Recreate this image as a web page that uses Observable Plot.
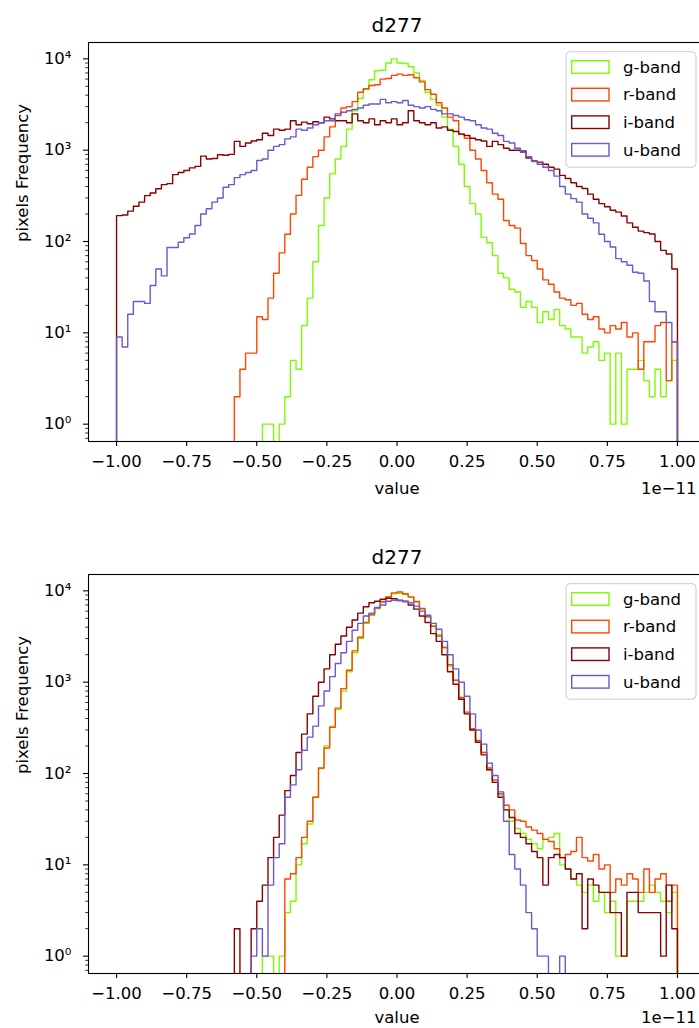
<!DOCTYPE html>
<html>
<head>
<meta charset="utf-8">
<script src="https://cdn.jsdelivr.net/npm/d3@7"></script>
<script src="https://cdn.jsdelivr.net/npm/@observablehq/plot@0.6"></script>
<style>
html, body { margin: 0; padding: 0; background: #fff; overflow: hidden; width: 699px; height: 1028px; }
#chart { width: 705px; }
#chart svg { display: block; }
</style>
</head>
<body>
<div id="chart"></div>
<script>
// ---------- data ----------
const chartTitle = "d277";
const xLabel = "value";
const xOffsetLabel = "1e\u221211";
const yLabel = "pixels Frequency";
const bands = ["g-band", "r-band", "i-band", "u-band"];
const bandColors = ["#7cfc00", "#ff4500", "#8b0000", "#6a5acd"];

// bin edges (units of 1e-11), 100 bins of width 0.02 from -1 to 1
const binEdges = d3.range(101).map(i => Math.round((-1 + 0.02 * i) * 100) / 100);

const xTicks = [-1, -0.75, -0.5, -0.25, 0, 0.25, 0.5, 0.75, 1];
const yMajor = [1, 10, 100, 1000, 10000];
const yMajorLabels = ["10\u2070", "10\u00b9", "10\u00b2", "10\u00b3", "10\u2074"];
const yMinor = [0.7, 0.8, 0.9,
  2, 3, 4, 5, 6, 7, 8, 9,
  20, 30, 40, 50, 60, 70, 80, 90,
  200, 300, 400, 500, 600, 700, 800, 900,
  2000, 3000, 4000, 5000, 6000, 7000, 8000, 9000];

// ---- top panel counts (per bin) ----
const gTop = [0,0,0,0,0,0,0,0,0,0,
  0,0,0,0,0,0,0,0,0,0,
  0,0,0,0,0,0,1,1,0,1,
  2,5,4,12,24,60,150,300,550,800,
  1100,1700,2700,3700,4600,5900,7400,7500,9000,10000,
  9000,8900,8200,7000,5800,4300,3600,3100,2300,1700,
  1100,700,400,260,200,111,97,70,45,40,
  30,28,19,22,19,13,17,14,18,12,
  11,9,9,6,7,8,5,6,1,6,
  1,4,4,5,3,2,4,2,3,5];
const rTop = [0,0,0,0,0,0,0,0,0,0,
  0,0,0,0,0,0,0,0,0,0,
  0,2,4,6,6,15,14,24,45,75,
  120,200,320,480,650,850,1000,1400,1800,2400,
  2900,3000,3400,4300,4700,5100,5200,6000,6100,6600,
  6800,6600,6700,6200,5600,4600,4100,3300,2900,2300,
  2100,1500,1350,1000,800,600,440,330,290,170,
  150,140,95,70,62,50,38,34,28,24,
  23,20,21,16,14,15,11,10,12,11,
  13,9,10,4,8,8,12,13,3,8];
const iTop = [192,195,215,243,270,318,340,378,420,430,
  540,570,600,640,665,860,800,810,890,880,
  900,1250,1100,1200,1260,1300,1530,1450,1700,1650,
  1700,2100,1900,2030,1950,2050,2000,2300,2200,2100,
  2100,2000,2500,2100,2000,2200,1900,2100,2000,2200,
  1900,2000,2700,2100,2000,1900,2000,1750,1800,1650,
  1600,1500,1450,1350,1300,1260,1100,1250,1150,1050,
  1000,1000,980,820,760,740,700,650,620,530,
  490,440,400,380,330,290,260,240,220,210,
  190,160,143,130,125,121,100,80,73,50];
const uTop = [9,7,16,22,22,21,33,50,42,86,
  86,98,110,121,150,200,228,270,300,393,
  420,500,540,570,600,770,800,1000,1100,1150,
  1330,1400,1700,1650,1750,1900,2000,2100,2100,2500,
  2600,2700,2800,2900,3100,3200,3200,3600,3300,3400,
  3300,3500,3100,3000,2900,3000,2800,2700,2500,2500,
  2400,2300,2150,2100,1900,1750,1700,1530,1450,1250,
  1200,1050,950,850,750,700,650,600,520,400,
  330,295,270,200,180,160,120,100,87,65,
  60,55,46,45,37,22,17,17,13,8];

// ---- bottom panel counts (per bin) ----
const gBot = [0,0,0,0,0,0,0,0,0,0,
  0,0,0,0,0,0,0,0,0,0,
  0,0,0,0,0,0,1,1,0,1,
  3,4,10,17,28,55,113,200,330,500,
  800,1300,2100,3000,4400,5400,6400,7500,8500,9300,
  9400,9100,8500,7700,6300,5300,4100,3300,2400,1500,
  1050,650,450,300,220,170,110,80,58,40,
  30,25,22,19,17,15,19,20,22,10,
  9,7,6,5,6,4,5,3,4,1,
  1,4,4,4,5,6,5,4,3,5];
const rBot = [0,0,0,0,0,0,0,0,0,0,
  0,0,0,0,0,0,0,0,0,0,
  0,0,0,0,0,0,0,0,0,0,
  7,8,12,20,30,55,115,190,320,520,
  850,1350,2200,3100,4500,5500,6500,7600,8600,9500,
  9700,9300,8600,7600,6400,5200,4100,3200,2400,1550,
  1050,680,470,310,230,170,115,85,60,45,
  40,31,30,26,24,22,19,18,15,12,
  13,14,20,12,11,13,9,10,5,7,
  6,8,7,5,9,5,7,8,4,6];
const iBot = [0,0,0,0,0,0,0,0,0,0,
  0,0,0,0,0,0,0,0,0,0,
  0,2,0,0,2,4,6,12,20,35,
  65,95,170,270,450,700,1000,1400,2000,2600,
  3200,4000,4800,5700,6700,7400,7700,8100,8300,8200,
  7900,7700,7000,6300,5300,4500,3400,2800,2000,1300,
  950,650,450,300,220,160,110,80,55,40,
  33,22,20,17,14,12,6,12,13,12,
  9,7,8,2,7,6,5,5,3,3,
  1,5,5,3,3,3,3,1,6,2];
const uBot = [0,0,0,0,0,0,0,0,0,0,
  0,0,0,0,0,0,0,0,0,0,
  0,0,0,0,1,2,1,6,12,17,
  55,75,110,180,250,330,550,800,1150,1600,
  2100,2800,3700,4400,5300,5700,6600,7000,7700,7900,
  7800,7600,7400,6800,6000,5400,4400,3800,2800,2000,
  1400,1000,700,450,300,210,130,95,63,30,
  13,9,6,3,2,1,1,0,0,1,
  0,0,0,0,0,0,0,0,0,0,
  0,0,0,0,0,0,0,0,0,0];

// ---------- drawing ----------
const FONT = "'DejaVu Sans', 'Liberation Sans', sans-serif";

function stepPoints(counts) {
  const FLOOR = 1e-3; // empty bins fall below the axes, like matplotlib's log histogram
  const v = c => (c > 0 ? c : FLOOR);
  const n = counts.length;
  const pts = [{x: binEdges[0], y: FLOOR}];
  counts.forEach((c, i) => pts.push({x: binEdges[i], y: v(c)}));
  pts.push({x: binEdges[n], y: v(counts[n - 1])});
  pts.push({x: binEdges[n], y: FLOOR});
  return pts;
}

function drawPanel(series, height, marginTop, marginBottom, labelDy) {
  const plot = Plot.plot({
    width: 705, height, marginTop, marginBottom, marginLeft: 88, marginRight: 0,
    style: {fontFamily: FONT, fontSize: "16.5px", color: "#000", background: "#fff", maxWidth: "none", overflow: "visible"},
    x: {type: "linear", domain: [-1.1, 1.1]},
    y: {type: "log", domain: [0.646, 15100]},
    marks: [
      ...bands.map((b, i) => Plot.line(stepPoints(series[i]), {
        x: "x", y: "y", curve: "step-after", stroke: bandColors[i], strokeWidth: 1.4, clip: true
      })),
      Plot.frame({stroke: "#000", strokeWidth: 1.1}),
      Plot.axisX(xTicks, {anchor: "bottom", tickSize: 5, tickPadding: 9, tickFormat: d3.format(".2f"), label: null, strokeWidth: 1.1}),
      Plot.axisY(yMajor, {anchor: "left", tickSize: 5, tickPadding: 12, tickFormat: d => yMajorLabels[yMajor.indexOf(d)], label: null, strokeWidth: 1.1}),
      Plot.axisY(yMinor, {anchor: "left", tickSize: 2.8, tickFormat: () => "", label: null, strokeWidth: 0.8}),
      Plot.text([chartTitle], {text: d => d, frameAnchor: "top", dy: -11, lineAnchor: "bottom", fontSize: 20}),
      Plot.text([xLabel], {text: d => d, frameAnchor: "bottom", dy: labelDy, lineAnchor: "bottom"}),
      Plot.text([xOffsetLabel], {text: d => d, frameAnchor: "bottom-right", textAnchor: "end", dx: -9, dy: labelDy, lineAnchor: "bottom"}),
      Plot.text([yLabel], {text: d => d, frameAnchor: "left", rotate: -90, dx: -61, lineAnchor: "bottom"})
    ]
  });

  // legend box (matplotlib style) in the upper right corner
  const svg = d3.select(plot);
  const lg = svg.append("g").attr("transform", `translate(566, ${marginTop + 9.7})`)
    .attr("font-family", FONT).attr("font-size", 16.5);
  lg.append("rect").attr("width", 130).attr("height", 115.5).attr("rx", 4)
    .attr("fill", "#fff").attr("fill-opacity", 0.8).attr("stroke", "#cccccc").attr("stroke-width", 1);
  bands.forEach((b, i) => {
    const cy = 15.3 + i * 27.6;
    lg.append("rect").attr("x", 5.7).attr("y", cy - 6.3).attr("width", 37.3).attr("height", 12.6)
      .attr("fill", "none").attr("stroke", bandColors[i]).attr("stroke-width", 1.4);
    lg.append("text").attr("x", 57).attr("y", cy).attr("dy", "0.35em")
      .attr("text-anchor", "start").attr("fill", "#000").text(b);
  });
  return plot;
}

const chart = document.getElementById("chart");
chart.appendChild(drawPanel([gTop, rTop, iTop, uTop], 531, 42, 90, 52));
chart.appendChild(drawPanel([gBot, rBot, iBot, uBot], 497, 43, 55, 49));
</script>
</body>
</html>
